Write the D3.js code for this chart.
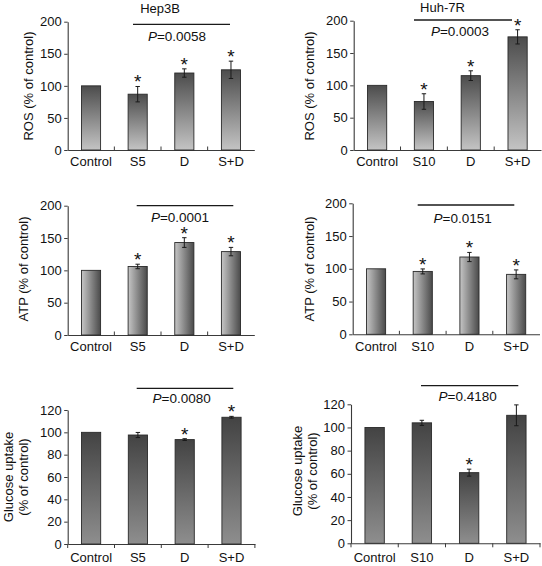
<!DOCTYPE html>
<html><head><meta charset="utf-8">
<script src="https://cdn.jsdelivr.net/npm/d3@7"></script>
<style>body{margin:0;background:#fff}svg{display:block}text{font-family:"Liberation Sans",Arial,sans-serif;fill:#111}</style>
</head><body><svg id="c" width="542" height="566"></svg>
<script>
// ---- data ----
const catsHep = ["Control", "S5", "D", "S+D"];
const catsHuh = ["Control", "S10", "D", "S+D"];
const cellTitles = ["Hep3B", "Huh-7R"];

const rosHep = [100, 87, 120, 125];
const rosHepErr = [0, 12, 6.5, 13.5];
const rosHepSig = [false, true, true, true];
const rosHuh = [100, 75, 115, 175];
const rosHuhErr = [0, 12, 7.5, 11];
const rosHuhSig = [false, true, true, true];

const atpHep = [100, 106, 143, 129];
const atpHepErr = [0, 3.5, 7.5, 6.5];
const atpHepSig = [false, true, true, true];
const atpHuh = [100, 96, 118, 91.5];
const atpHuhErr = [0, 3.8, 7, 6.8];
const atpHuhSig = [false, true, true, true];

const gluHep = [100, 97.6, 93.5, 113.5];
const gluHepErr = [0, 2.3, 0.8, 0.8];
const gluHepSig = [false, false, true, true];
const gluHuh = [100, 104, 61, 110.5];
const gluHuhErr = [0, 2.2, 3, 9];
const gluHuhSig = [false, false, true, false];

const pLabels = ["0.0058", "0.0003", "0.0001", "0.0151", "0.0080", "0.4180"];
const ticks200 = [0, 50, 100, 150, 200];
const ticks120 = [0, 20, 40, 60, 80, 100, 120];

// ---- drawing ----
const svg = d3.select("#c");
const defs = svg.append("defs");
function grad(id, x2, y2, c1, c2) {
  const g = defs.append("linearGradient").attr("id", id)
    .attr("x1", 0).attr("y1", 0).attr("x2", x2).attr("y2", y2);
  g.append("stop").attr("offset", "0%").attr("stop-color", c1);
  g.append("stop").attr("offset", "100%").attr("stop-color", c2);
}
grad("gRos", 0, 1, "#4c4c4c", "#c4c4c4");
grad("gAtp", 1, 0, "#c6c6c6", "#4a4a4a");
grad("gGlu", 0, 1, "#434343", "#8e8e8e");

const panels = [
  {cats: catsHep, v: rosHep, e: rosHepErr, s: rosHepSig, ymax: 200, ticks: ticks200, fill: "gRos",
   x0: 67.7, x1: 254.3, y0: 150, y1: 21.7, ylab: ["ROS (% of control)"], ylx: [28], yly: 86,
   title: cellTitles[0], tx: 160, ty: 12.5, p: pLabels[0], px: [133, 230], py: 24.3, ptx: 177, pty: 40.5, down: false},
  {cats: catsHuh, v: rosHuh, e: rosHuhErr, s: rosHuhSig, ymax: 200, ticks: ticks200, fill: "gRos",
   x0: 353.7, x1: 541, y0: 150, y1: 20.7, ylab: ["ROS (% of control)"], ylx: [309], yly: 86,
   title: cellTitles[1], tx: 442.5, ty: 12, p: pLabels[1], px: [414, 512], py: 20, ptx: 460, pty: 35.5, down: false},
  {cats: catsHep, v: atpHep, e: atpHepErr, s: atpHepSig, ymax: 200, ticks: ticks200, fill: "gAtp",
   x0: 67.7, x1: 254.3, y0: 335, y1: 205.7, ylab: ["ATP (% of control)"], ylx: [23], yly: 269,
   p: pLabels[2], px: [136.7, 233.3], py: 205.7, ptx: 180, pty: 221.7, down: false},
  {cats: catsHuh, v: atpHuh, e: atpHuhErr, s: atpHuhSig, ymax: 200, ticks: ticks200, fill: "gAtp",
   x0: 352.7, x1: 539.5, y0: 334.3, y1: 203.3, ylab: ["ATP (% of control)"], ylx: [309], yly: 269,
   p: pLabels[3], px: [417.7, 514.3], py: 205, ptx: 462.7, pty: 222.5, down: false},
  {cats: catsHep, v: gluHep, e: gluHepErr, s: gluHepSig, ymax: 120, ticks: ticks120, fill: "gGlu",
   x0: 67.7, x1: 254.9, y0: 544, y1: 410, ylab: ["Glucose uptake", "(% of control)"], ylx: [8, 23.5], yly: 477,
   p: pLabels[4], px: [136.7, 233.3], py: 388.3, ptx: 181.7, pty: 403.3, down: true},
  {cats: catsHuh, v: gluHuh, e: gluHuhErr, s: gluHuhSig, ymax: 120, ticks: ticks120, fill: "gGlu",
   x0: 351, x1: 540, y0: 543.3, y1: 404.3, ylab: ["Glucose uptake", "(% of control)"], ylx: [297.5, 312.5], yly: 471,
   p: pLabels[5], px: [421, 518.3], py: 385.7, ptx: 467.7, pty: 400.7, down: true}
];

const axisCol = "#3a3a3a";
panels.forEach(P => {
  const g = svg.append("g");
  const x = d3.scaleBand().domain(P.cats).range([P.x0, P.x1]).paddingInner(0.59).paddingOuter(0.295);
  const y = d3.scaleLinear().domain([0, P.ymax]).range([P.y0, P.y1]);
  const step = x.step();

  // y axis
  const ya = g.append("g").attr("transform", `translate(${P.x0},0)`)
    .call(d3.axisLeft(y).tickValues(P.ticks).tickSize(3.5).tickPadding(2.5).tickSizeOuter(0));
  ya.select(".domain").attr("stroke", axisCol).attr("stroke-width", 1.1);
  ya.selectAll(".tick line").attr("stroke", axisCol);
  ya.selectAll(".tick text").style("font-size", "13px").attr("fill", "#111")
    .style("font-family", '"Liberation Sans", Arial, sans-serif');

  // x axis
  const xa = g.append("g").attr("transform", `translate(0,${P.y0})`)
    .call(d3.axisBottom(x).tickSize(0).tickPadding(P.down ? 9 : 7));
  xa.select(".domain").attr("stroke", axisCol).attr("stroke-width", 1.1);
  xa.selectAll(".tick text").style("font-size", "13px").attr("fill", "#111")
    .style("font-family", '"Liberation Sans", Arial, sans-serif');
  // boundary ticks
  const bounds = P.down ? d3.range(0, P.cats.length + 1) : d3.range(1, P.cats.length);
  xa.selectAll(".btick").data(bounds).join("line").attr("class", "btick")
    .attr("x1", i => P.x0 + i * step).attr("x2", i => P.x0 + i * step)
    .attr("y1", 0).attr("y2", P.down ? 4 : -3.5).attr("stroke", axisCol).attr("stroke-width", 1);

  // bars
  const data = P.cats.map((c, i) => ({c, v: P.v[i], e: P.e[i], s: P.s[i]}));
  g.selectAll(".bar").data(data).join("rect").attr("class", "bar")
    .attr("x", d => x(d.c)).attr("width", x.bandwidth())
    .attr("y", d => y(d.v)).attr("height", d => y(0) - y(d.v))
    .attr("fill", `url(#${P.fill})`).attr("stroke", "#2a2a2a").attr("stroke-width", 0.9);

  // error bars
  const eb = data.filter(d => d.e > 0);
  const cx = d => x(d.c) + x.bandwidth() / 2;
  g.selectAll(".ev").data(eb).join("line")
    .attr("x1", cx).attr("x2", cx).attr("y1", d => y(d.v + d.e)).attr("y2", d => y(d.v - d.e))
    .attr("stroke", "#1a1a1a").attr("stroke-width", 1);
  ["+", "-"].forEach(sg => {
    g.selectAll(".ec" + (sg === "+" ? "p" : "m")).data(eb).join("line")
      .attr("x1", d => cx(d) - 2.2).attr("x2", d => cx(d) + 2.2)
      .attr("y1", d => y(sg === "+" ? d.v + d.e : d.v - d.e)).attr("y2", d => y(sg === "+" ? d.v + d.e : d.v - d.e))
      .attr("stroke", "#1a1a1a").attr("stroke-width", 1);
  });

  // significance stars
  g.selectAll(".star").data(data.filter(d => d.s)).join("text")
    .attr("x", cx).attr("y", d => y(d.v + d.e) + 2)
    .attr("text-anchor", "middle").style("font-size", "19px").text("*");

  // P bracket
  g.append("line").attr("x1", P.px[0]).attr("x2", P.px[1]).attr("y1", P.py).attr("y2", P.py)
    .attr("stroke", "#1a1a1a").attr("stroke-width", 1.3);
  const pt = g.append("text").attr("x", P.ptx).attr("y", P.pty).attr("text-anchor", "middle").style("font-size", "13.5px");
  pt.append("tspan").style("font-style", "italic").text("P");
  pt.append("tspan").text("=" + P.p);

  // y label
  P.ylab.forEach((t, i) => {
    g.append("text").attr("transform", `translate(${P.ylx[i]},${P.yly}) rotate(-90)`)
      .attr("text-anchor", "middle").attr("dy", "0.35em").style("font-size", "13px").text(t);
  });

  // title
  if (P.title) g.append("text").attr("x", P.tx).attr("y", P.ty).attr("text-anchor", "middle")
    .style("font-size", "13px").text(P.title);
});
</script></body></html>
